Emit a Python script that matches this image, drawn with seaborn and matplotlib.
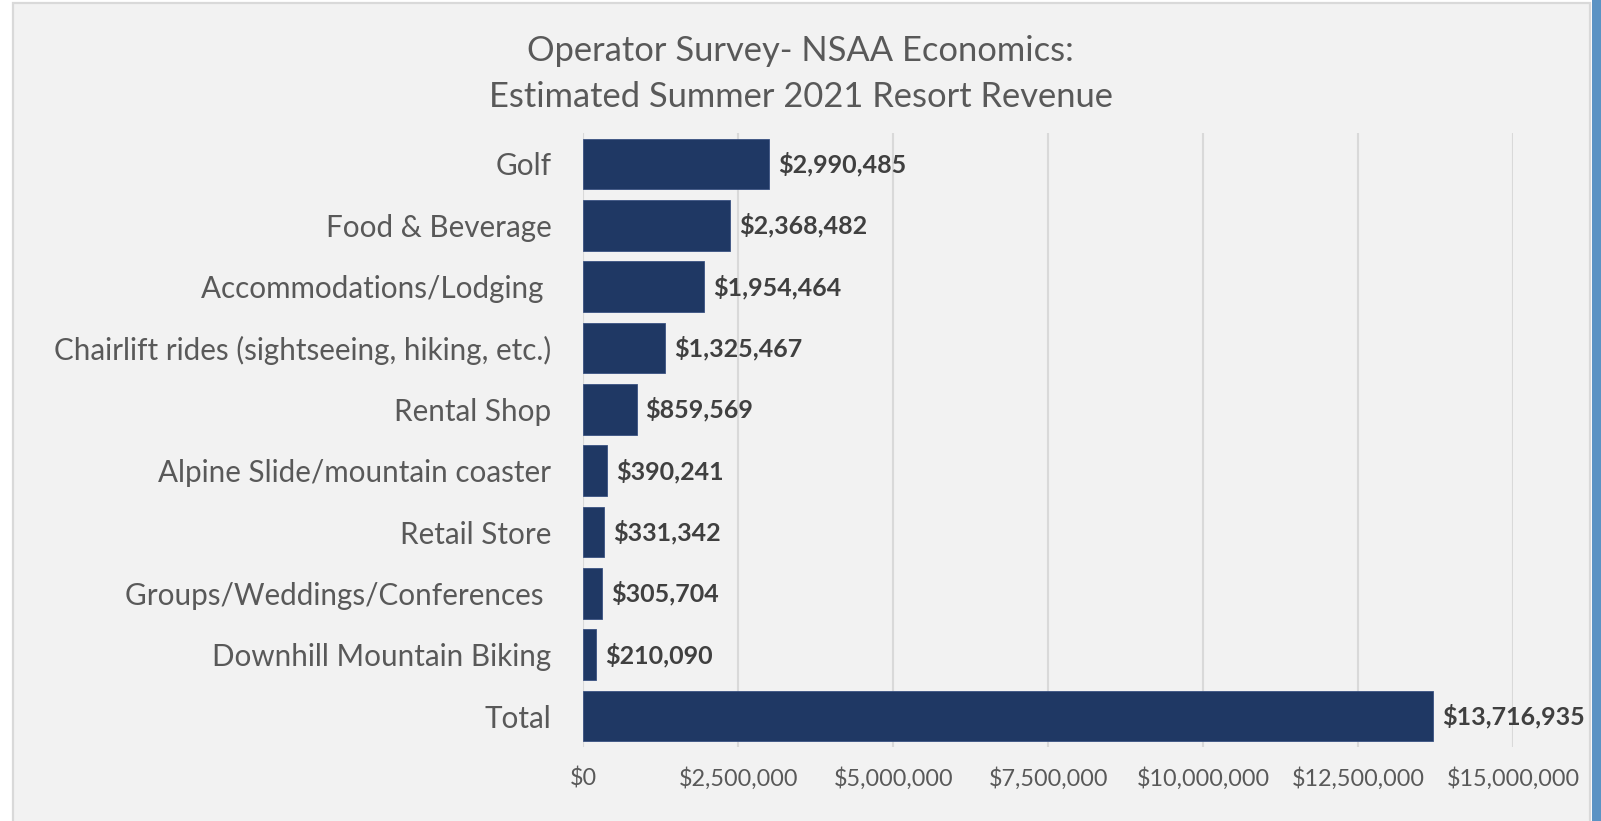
import matplotlib
matplotlib.use("Agg")
import matplotlib.pyplot as plt
from matplotlib.patches import Rectangle
from matplotlib.ticker import FuncFormatter
import seaborn as sns
import pandas as pd

# Revenue by activity, summer 2021
categories = [
    "Golf",
    "Food & Beverage",
    "Accommodations/Lodging ",
    "Chairlift rides (sightseeing, hiking, etc.)",
    "Rental Shop",
    "Alpine Slide/mountain coaster",
    "Retail Store",
    "Groups/Weddings/Conferences ",
    "Downhill Mountain Biking",
    "Total",
]
revenue = [2990485, 2368482, 1954464, 1325467, 859569,
           390241, 331342, 305704, 210090, 13716935]
x_ticks = [0, 2500000, 5000000, 7500000, 10000000, 12500000, 15000000]
title_lines = ["Operator Survey- NSAA Economics:",
               "Estimated Summer 2021 Resort Revenue"]

sns.set_theme(style="white")
plt.rcParams["font.family"] = ["Lato", "DejaVu Sans"]

W, H = 1601, 821
fig = plt.figure(figsize=(W / 100, H / 100), dpi=100, facecolor="white")

# chart area panel and the blue strip on the right edge
fig.patches.append(Rectangle((12.5 / W, -0.02), (1590 - 12.5) / W, 1.02 - 3.5 / H,
                             transform=fig.transFigure, facecolor="#f2f2f2",
                             edgecolor="#d9d9d9", linewidth=1.6, zorder=-10))
fig.patches.append(Rectangle((1592 / W, 0), (W - 1592) / W, 1,
                             transform=fig.transFigure, facecolor="#5b93c4",
                             edgecolor="none", zorder=-10))

ax = fig.add_axes([583.3 / W, 1 - 746.7 / H, (1513 - 583.3) / W, (746.7 - 133.3) / H])
ax.set_facecolor("none")
ax.set_zorder(5)

df = pd.DataFrame({"category": categories, "revenue": revenue})
sns.barplot(data=df, x="revenue", y="category", orient="h", color="#1f3864",
            width=0.83, saturation=1, edgecolor="#3a5282", linewidth=0.6, ax=ax)

ax.set_xlim(0, 15000000)
ax.set_xticks(x_ticks)
ax.xaxis.set_major_formatter(FuncFormatter(lambda v, p: f"${v:,.0f}"))
ax.grid(axis="x", color="#d9d9d9", linewidth=1.5)
ax.grid(axis="y", visible=False)
ax.set_axisbelow(True)
for s in ax.spines.values():
    s.set_visible(False)
ax.set_xlabel("")
ax.set_ylabel("")
ax.tick_params(axis="x", length=0, pad=15, labelsize=16.8, labelcolor="#595959")
ax.tick_params(axis="y", length=0, pad=23, labelsize=21.3, labelcolor="#595959")

for i, v in enumerate(revenue):
    ax.annotate(f"${v:,.0f}", xy=(v, i), xytext=(9, 0), textcoords="offset pixels",
                ha="left", va="center", fontsize=18, fontweight="bold", color="#404040")

fig.text(0.5, 1 - 61 / H, title_lines[0], ha="center", va="baseline",
         fontsize=24.8, color="#595959")
fig.text(0.5, 1 - 107 / H, title_lines[1], ha="center", va="baseline",
         fontsize=24.8, color="#595959")

fig.savefig("out.png", dpi=100, facecolor="white")
